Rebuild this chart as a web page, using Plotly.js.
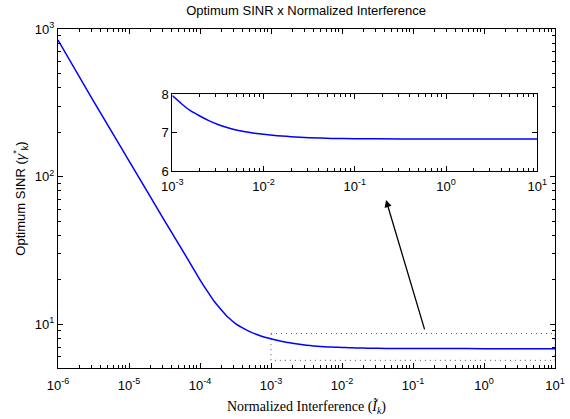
<!DOCTYPE html>
<html>
<head>
<meta charset="utf-8">
<script src="https://cdn.plot.ly/plotly-3.0.1.min.js"></script>
<style>html,body{margin:0;padding:0;background:#fff;}#chart{width:570px;height:419px;}</style>
</head>
<body>
<div id="chart"></div>
<script>
// Normalized interference values (x) and optimum SINR (y)
var interference = [1e-6, 3.16e-6, 1e-5, 3.16e-5, 6.31e-5, 1e-4, 1.26e-4, 1.58e-4, 2e-4, 2.51e-4, 3.16e-4, 3.98e-4, 5.01e-4, 6.31e-4, 7.94e-4,
  1e-3, 1.26e-3, 1.58e-3, 2e-3, 2.51e-3, 3.16e-3, 3.98e-3, 5.01e-3, 6.31e-3, 7.94e-3,
  1e-2, 1.26e-2, 1.58e-2, 2e-2, 2.51e-2, 3.16e-2, 5.62e-2, 0.1, 0.316, 1, 10];
var sinr = [841, 325, 128, 50.4, 29.0, 20.0, 16.8, 14.3, 12.5, 11.1, 10.1, 9.44, 8.91, 8.51, 8.20,
  7.96, 7.75, 7.57, 7.43, 7.31, 7.21, 7.13, 7.065, 7.02, 6.985,
  6.955, 6.93, 6.91, 6.893, 6.878, 6.866, 6.848, 6.84, 6.834, 6.832, 6.83];

// Zoom box (dotted) corners
var boxX = [1e-3, 10, 10, 1e-3, 1e-3];
var boxY = [8.65, 8.65, 5.69, 5.69, 8.65];

// Arrow from box to inset: [tail, head]
var arrowX = [0.1476, 0.0417];
var arrowY = [9.02, 69.4];

// Tick labels
var mainXTicks = [1e-6, 1e-5, 1e-4, 1e-3, 1e-2, 1e-1, 1, 10];
var mainXText = ['10<sup>-6</sup>', '10<sup>-5</sup>', '10<sup>-4</sup>', '10<sup>-3</sup>', '10<sup>-2</sup>', '10<sup>-1</sup>', '10<sup>0</sup>', '10<sup>1</sup>'];
var mainYTicks = [10, 100, 1000];
var mainYText = ['10<sup>1</sup>', '10<sup>2</sup>', '10<sup>3</sup>'];
var insetXTicks = [1e-3, 1e-2, 1e-1, 1, 10];
var insetXText = ['10<sup>-3</sup>', '10<sup>-2</sup>', '10<sup>-1</sup>', '10<sup>0</sup>', '10<sup>1</sup>'];
var insetYTicks = [6, 7, 8];
var insetYText = ['6', '7', '8'];

function minorLog(lo, hi) {
  var out = [];
  for (var e = lo; e < hi; e++) {
    for (var m = 2; m <= 9; m++) out.push(m * Math.pow(10, e));
  }
  return out;
}

var insetStart = interference.indexOf(1e-3);

var traces = [
  {x: boxX, y: boxY, mode: 'lines', line: {color: '#555', width: 1, dash: '1px,4px'}, xaxis: 'x', yaxis: 'y', hoverinfo: 'skip'},
  {x: interference, y: sinr, mode: 'lines', line: {color: '#0000ff', width: 1.5, shape: 'spline', smoothing: 0.5}, xaxis: 'x', yaxis: 'y'},
  {x: interference.slice(insetStart), y: sinr.slice(insetStart), mode: 'lines', line: {color: '#0000ff', width: 1.5, shape: 'spline', smoothing: 0.5}, xaxis: 'x2', yaxis: 'y2'}
];

var tickFont = {family: 'Liberation Sans, Arial, sans-serif', size: 13, color: '#000'};
var axBase = {showline: true, linecolor: '#000', linewidth: 1, mirror: 'ticks', ticks: 'inside', ticklen: 5, tickcolor: '#000', showgrid: false, zeroline: false, tickfont: tickFont};

var layout = {
  width: 570, height: 419,
  margin: {l: 58, r: 15, t: 29, b: 51},
  paper_bgcolor: '#fff', plot_bgcolor: '#fff',
  showlegend: false,
  title: {text: 'Optimum SINR x Normalized Interference', font: {family: 'Liberation Sans, Arial, sans-serif', size: 13, color: '#000'}, x: 0.537, xanchor: 'center', y: 0.975, yanchor: 'middle'},
  xaxis: Object.assign({}, axBase, {
    type: 'log', range: [-6, 1], tickmode: 'array', tickvals: mainXTicks, ticktext: mainXText,
    ticklabelstandoff: 5,
    minor: {tickmode: 'array', tickvals: minorLog(-6, 1), ticks: 'inside', ticklen: 3, tickcolor: '#000'},
    title: {text: 'Normalized Interference (<i>Ĩ</i><sub><i>k</i></sub>)', font: {family: 'Liberation Serif, Times New Roman, serif', size: 14, color: '#000'}, standoff: 9},
    domain: [0, 1], anchor: 'y'
  }),
  yaxis: Object.assign({}, axBase, {
    type: 'log', range: [Math.log10(5.05), 3], tickmode: 'array', tickvals: mainYTicks, ticktext: mainYText,
    minor: {tickmode: 'array', tickvals: [6, 7, 8, 9].concat(minorLog(1, 3)), ticks: 'inside', ticklen: 3, tickcolor: '#000'},
    title: {text: 'Optimum SINR (<i>γ</i><sup>*</sup><sub>k</sub>)', font: {family: 'Liberation Sans, Arial, sans-serif', size: 13, color: '#000'}, standoff: 6},
    domain: [0, 1], anchor: 'x'
  }),
  xaxis2: Object.assign({}, axBase, {
    type: 'log', range: [-3, 1], tickmode: 'array', tickvals: insetXTicks, ticktext: insetXText,
    ticklabelstandoff: 3,
    minor: {tickmode: 'array', tickvals: minorLog(-3, 1), ticks: 'inside', ticklen: 3, tickcolor: '#000'},
    domain: [0.230, 0.9644], anchor: 'y2'
  }),
  yaxis2: Object.assign({}, axBase, {
    range: [6, 8], tickmode: 'array', tickvals: insetYTicks, ticktext: insetYText,
    domain: [0.581, 0.808], anchor: 'x2'
  }),
  annotations: [{
    xref: 'x', yref: 'y', axref: 'x', ayref: 'y',
    x: Math.log10(arrowX[1]), y: Math.log10(arrowY[1]),
    ax: Math.log10(arrowX[0]), ay: Math.log10(arrowY[0]),
    text: '', showarrow: true, arrowhead: 2, arrowsize: 1.1, arrowwidth: 1.3, arrowcolor: '#000', standoff: 0, startstandoff: 0
  }]
};

Plotly.newPlot('chart', traces, layout, {staticPlot: true, displayModeBar: false});
</script>
</body>
</html>
